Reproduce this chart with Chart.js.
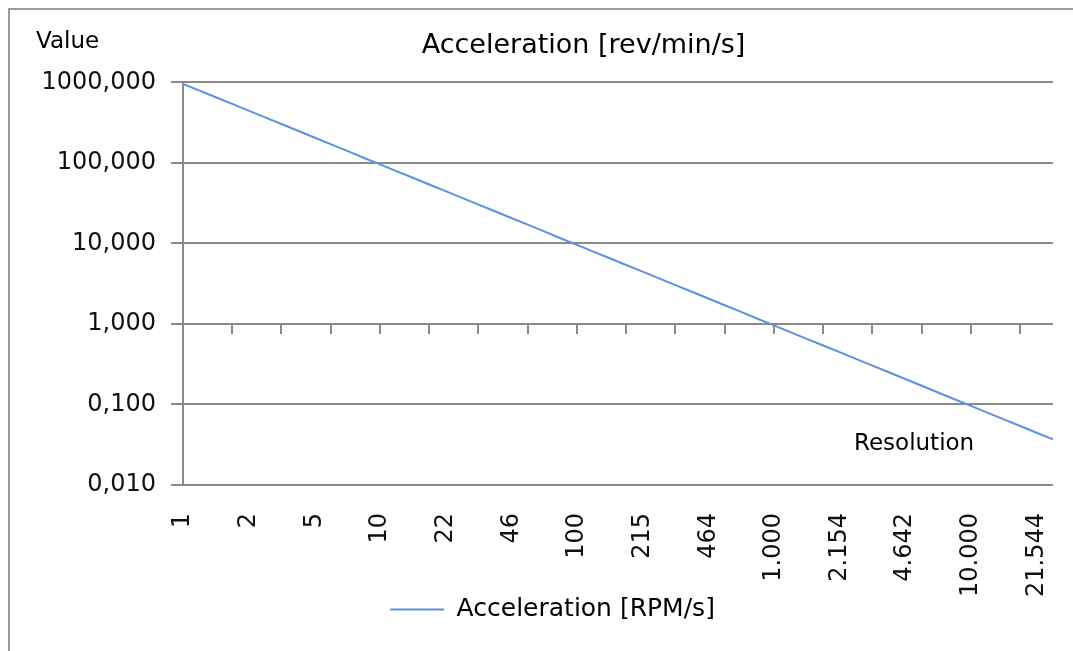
<!DOCTYPE html>
<html>
<head>
<meta charset="utf-8">
<script src="https://cdn.jsdelivr.net/npm/chart.js@4.4.1/dist/chart.umd.min.js"></script>
<style>
    html, body { margin: 0; padding: 0; background: #fff; overflow: hidden; }
    #chart { display: block; }
</style>
</head>
<body>
<canvas id="chart" width="1073" height="651"></canvas>
<script>
// category values (acceleration steps), one every 1/12 decade
const xValues = [
    1, 1.21, 1.47, 1.78, 2.15, 2.61, 3.16, 3.83, 4.64, 5.62, 6.81, 8.25,
    10, 12.1, 14.7, 17.8, 21.5, 26.1, 31.6, 38.3, 46.4, 56.2, 68.1, 82.5,
    100, 121, 147, 178, 215, 261, 316, 383, 464, 562, 681, 825,
    1000, 1212, 1468, 1778, 2154, 2610, 3162, 3831, 4642, 5623, 6813, 8254,
    10000, 12115, 14678, 17783, 21544, 26102
];
// only every 4th category gets a label
const xTickLabels = ['1', '2', '5', '10', '22', '46', '100', '215', '464', '1.000', '2.154', '4.642', '10.000', '21.544'];
const xLabelStep = 4;
const xTickMarkStep = 3;

const accelValues = [
    960, 792, 654, 540, 446, 368, 304, 251, 207, 171, 141, 116,
    96, 79.2, 65.4, 54.0, 44.6, 36.8, 30.4, 25.1, 20.7, 17.1, 14.1, 11.6,
    9.6, 7.92, 6.54, 5.40, 4.46, 3.68, 3.04, 2.51, 2.07, 1.71, 1.41, 1.16,
    0.96, 0.792, 0.654, 0.540, 0.446, 0.368, 0.304, 0.251, 0.207, 0.171, 0.141, 0.116,
    0.096, 0.0792, 0.0654, 0.0540, 0.0446, 0.0368
];

const yTicks = [0.01, 0.1, 1, 10, 100, 1000];
const yTickLabels = ['0,010', '0,100', '1,000', '10,000', '100,000', '1000,000'];
const yCross = 1;

const FONT = "'DejaVu Sans', Verdana, sans-serif";
const GRID = '#8a8a8a';
const LINE = '#5e91dc';

// tick marks on the horizontal axis, which crosses at y = 1
const crossTicks = {
    id: 'crossTicks',
    afterDatasetsDraw(chart) {
        const { ctx, scales: { x, y } } = chart;
        const yPix = y.getPixelForValue(yCross);
        ctx.save();
        ctx.strokeStyle = GRID;
        ctx.lineWidth = 2;
        ctx.beginPath();
        for (let i = xTickMarkStep; i < xValues.length; i += xTickMarkStep) {
            const xPix = Math.round(x.getPixelForValue(i));
            ctx.moveTo(xPix, yPix);
            ctx.lineTo(xPix, yPix + 10);
        }
        ctx.stroke();
        ctx.restore();
    }
};

const extraText = {
    id: 'extraText',
    afterLayout(chart) {
        // Excel centres the title and legend on different boxes
        if (chart.titleBlock) {
            chart.titleBlock.left += 53;
            chart.titleBlock.right += 53;
        }
        if (chart.legend) {
            chart.legend.left += 22;
            chart.legend.right += 22;
        }
    },
    beforeDraw(chart) {
        const { ctx, width, height } = chart;
        ctx.save();
        ctx.fillStyle = '#9a9a9a';
        ctx.fillRect(8, 8, 2, height - 8);
        ctx.fillRect(8, 8, width - 8, 2);
        ctx.restore();
    },
    afterDraw(chart) {
        const { ctx, chartArea } = chart;
        ctx.save();
        ctx.fillStyle = '#000';
        ctx.font = `23px ${FONT}`;
        ctx.textBaseline = 'middle';
        ctx.textAlign = 'left';
        ctx.fillText('Value', chartArea.left - 147, chartArea.top - 40);
        ctx.fillText('Resolution', chartArea.right - 199, chartArea.bottom - 41);
        ctx.restore();
    }
};

new Chart(document.getElementById('chart'), {
    type: 'line',
    data: {
        labels: xValues,
        datasets: [{
            label: 'Acceleration [RPM/s]',
            data: accelValues,
            borderColor: LINE,
            backgroundColor: LINE,
            borderWidth: 2,
            pointRadius: 0,
            tension: 0,
            fill: false
        }]
    },
    options: {
        responsive: false,
        animation: false,
        layout: { padding: { left: 8, right: 20, top: 0, bottom: 19 } },
        plugins: {
            title: {
                display: true,
                text: 'Acceleration [rev/min/s]',
                color: '#000',
                font: { family: FONT, size: 27, weight: 'normal' },
                padding: { top: 30, bottom: 20 }
            },
            legend: {
                position: 'bottom',
                labels: {
                    usePointStyle: true,
                    pointStyle: 'line',
                    pointStyleWidth: 54,
                    padding: 0,
                    color: '#000',
                    font: { family: FONT, size: 25 }
                }
            },
            tooltip: { enabled: false }
        },
        scales: {
            x: {
                type: 'category',
                offset: false,
                grid: { display: false, drawTicks: false },
                border: { display: false },
                afterFit: (scale) => {
                    scale.height = 112;
                    scale.paddingLeft = 0;
                    scale.paddingRight = 0;
                },
                ticks: {
                    autoSkip: false,
                    maxRotation: 90,
                    minRotation: 90,
                    padding: 28,
                    color: '#111',
                    font: { family: FONT, size: 24 },
                    callback: (value, index) => (index % xLabelStep === 0 ? xTickLabels[index / xLabelStep] : null)
                }
            },
            y: {
                type: 'logarithmic',
                min: 0.01,
                max: 1000,
                afterBuildTicks: (scale) => { scale.ticks = yTicks.map((v) => ({ value: v })); },
                afterFit: (scale) => { scale.width = 175; },
                grid: { color: GRID, lineWidth: 2, tickLength: 12, drawTicks: true },
                border: { display: true, color: GRID, width: 2 },
                ticks: {
                    padding: 15,
                    color: '#111',
                    font: { family: FONT, size: 24 },
                    callback: (value) => yTickLabels[yTicks.indexOf(value)]
                }
            }
        }
    },
    plugins: [crossTicks, extraText]
});
</script>
</body>
</html>
